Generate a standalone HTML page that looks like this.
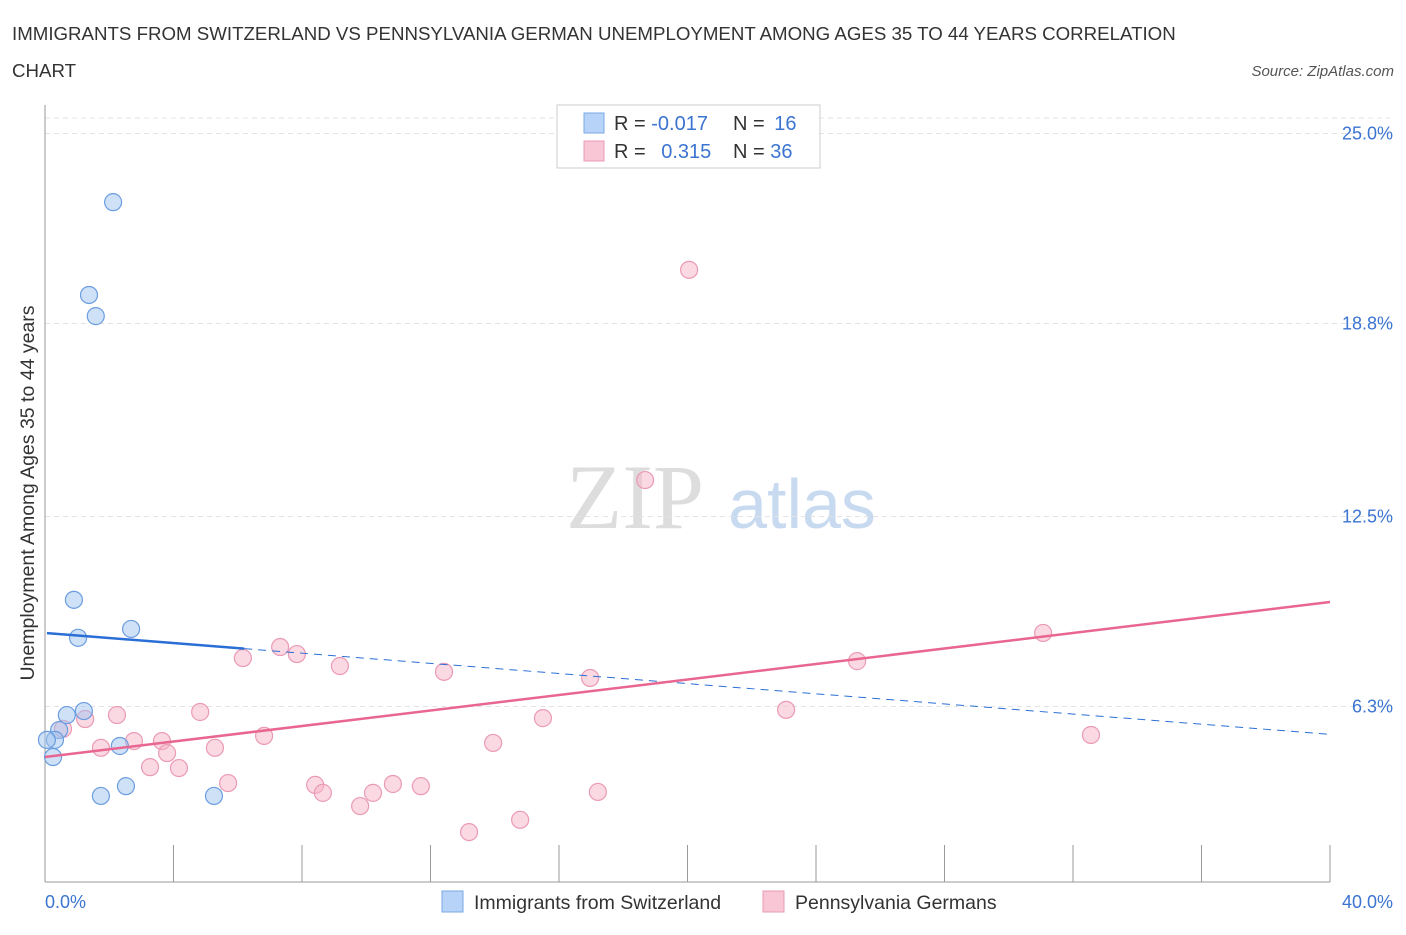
<!DOCTYPE html>
<html><head><meta charset="utf-8"><style>
body{margin:0;background:#fff;font-family:"Liberation Sans",sans-serif;}
</style></head><body>
<svg id="c" width="1406" height="930" xmlns="http://www.w3.org/2000/svg" style="font-family:'Liberation Sans',sans-serif">
<text x="12" y="40" font-size="18.7" fill="#333">IMMIGRANTS FROM SWITZERLAND VS PENNSYLVANIA GERMAN UNEMPLOYMENT AMONG AGES 35 TO 44 YEARS CORRELATION</text>
<text x="12" y="77" font-size="18.7" fill="#333">CHART</text>
<text x="1394" y="76" font-size="15" fill="#555" font-style="italic" text-anchor="end">Source: ZipAtlas.com</text>
<text x="635" y="528" font-size="92" fill="#ddd" font-family="Liberation Serif,serif" text-anchor="middle">ZIP</text>
<text x="802" y="528" font-size="70" fill="#c8daf0" text-anchor="middle">atlas</text>
<text transform="translate(34,493) rotate(-90)" font-size="19.5" fill="#333" text-anchor="middle">Unemployment Among Ages 35 to 44 years</text>
<g id="grid"></g><g id="marks"></g>
<g>
<rect x="557" y="105" width="263" height="63" fill="#fff" stroke="#ccc"/>
<rect x="584" y="113" width="20" height="20" fill="#b7d3f7" stroke="#7aa9e6"/>
<rect x="584" y="141" width="20" height="20" fill="#f9c6d6" stroke="#eb9ab5"/>
<text x="614" y="130" font-size="20" fill="#333">R = <tspan fill="#3b74d1">-0.017</tspan></text>
<text x="733" y="130" font-size="20" fill="#333">N = <tspan fill="#3b74d1" dx="4">16</tspan></text>
<text x="614" y="158" font-size="20" fill="#333">R = <tspan fill="#3b74d1" dx="10">0.315</tspan></text>
<text x="733" y="158" font-size="20" fill="#333">N = <tspan fill="#3b74d1">36</tspan></text>
</g>
<g>
<rect x="442" y="891" width="21" height="21" fill="#b7d3f7" stroke="#7aa9e6"/>
<text x="474" y="909" font-size="19.5" fill="#333">Immigrants from Switzerland</text>
<rect x="763" y="891" width="21" height="21" fill="#f9c6d6" stroke="#eb9ab5"/>
<text x="795" y="909" font-size="19.5" fill="#333">Pennsylvania Germans</text>
</g>
</svg>
<script>
const yTicks=[25.0,18.8,12.5,6.3];
const yTickLabels=["25.0%","18.8%","12.5%","6.3%"];
const xTickCount=10;
const xLabels=["0.0%","40.0%"];
const blueX=[2.12,1.37,1.58,0.90,1.03,2.68,0.68,1.21,0.44,0.31,0.25,2.33,1.74,2.52,5.26,0.06];
const blueY=[22.76,19.73,19.04,9.78,8.54,8.83,6.02,6.15,5.53,5.21,4.65,5.01,3.38,3.70,3.38,5.21];
const pinkX=[20.05,18.68,31.07,25.28,7.32,7.84,6.16,9.18,12.42,16.97,23.07,2.24,4.83,1.25,0.56,15.50,6.82,3.64,2.77,1.74,5.29,13.95,32.56,3.80,3.27,4.17,5.70,8.41,8.65,10.83,11.70,10.21,9.81,17.21,14.79,13.20];
const pinkY=[20.55,13.69,8.70,7.78,8.24,8.01,7.88,7.62,7.43,7.23,6.19,6.02,6.12,5.89,5.57,5.92,5.34,5.17,5.17,4.95,4.95,5.11,5.37,4.78,4.32,4.29,3.80,3.74,3.48,3.77,3.70,3.48,3.05,3.51,2.60,2.20];
const blueLine=[8.70,5.39];
const pinkLine=[4.65,9.71];
const X=v=>45+v/40*1285, Y=v=>899.5-v*30.64;
const NS="http://www.w3.org/2000/svg";
function mk(p,t,a){const e=document.createElementNS(NS,t);for(const k in a)e.setAttribute(k,a[k]);p.appendChild(e);return e;}
const g=document.getElementById('grid'),m=document.getElementById('marks');
let tl=mk(g,'line',{x1:45,x2:1390,y1:118,y2:118,stroke:'#e3e3e3','stroke-dasharray':'5,4'});


yTicks.forEach((v,i)=>{
 const l=mk(g,'line',{x1:45,x2:1390,y1:Y(v),y2:Y(v),stroke:'#e3e3e3','stroke-dasharray':'5,4'});
 
 
 const t=mk(g,'text',{x:1393,y:Y(v)+6,'font-size':18,fill:'#3b74d1','text-anchor':'end'});t.textContent=yTickLabels[i];
 
 
});
let ax=mk(g,'line',{x1:45,x2:45,y1:105,y2:882,stroke:'#999'});


let bx=mk(g,'line',{x1:45,x2:1330,y1:882,y2:882,stroke:'#999'});


for(let i=1;i<=xTickCount;i++){const x=X(i*4);const t=mk(g,'line',{x1:x,x2:x,y1:845,y2:882,stroke:'#999'});
 
 }
[[45,'start'],[1393,'end']].forEach((p,i)=>{const t=mk(g,'text',{x:p[0],y:908,'font-size':18,fill:'#3b74d1','text-anchor':p[1]});t.textContent=xLabels[i];
 
 });
pinkX.forEach((x,i)=>{const c=mk(m,'circle',{cx:X(x),cy:Y(pinkY[i]),r:8.5,fill:'rgba(246,180,200,0.5)',stroke:'#eb9ab5','stroke-width':1.2});
 
 });
blueX.forEach((x,i)=>{const c=mk(m,'circle',{cx:X(x),cy:Y(blueY[i]),r:8.5,fill:'rgba(160,196,240,0.5)',stroke:'#6b9de0','stroke-width':1.2});
 
 });
const bAt=v=>blueLine[0]+(blueLine[1]-blueLine[0])*v/40;
let b1=mk(m,'line',{x1:X(0.06),y1:Y(bAt(0.06)),x2:X(6.2),y2:Y(bAt(6.2)),stroke:'#2a6fd6','stroke-width':2.5});


let b2=mk(m,'line',{x1:X(6.2),y1:Y(bAt(6.2)),x2:X(40),y2:Y(bAt(40)),stroke:'#2a6fd6','stroke-width':1,'stroke-dasharray':'8,6'});


let p1=mk(m,'line',{x1:X(0),y1:Y(pinkLine[0]),x2:X(40),y2:Y(pinkLine[1]),stroke:'#e8668f','stroke-width':2.5});


</script>
</body></html>
